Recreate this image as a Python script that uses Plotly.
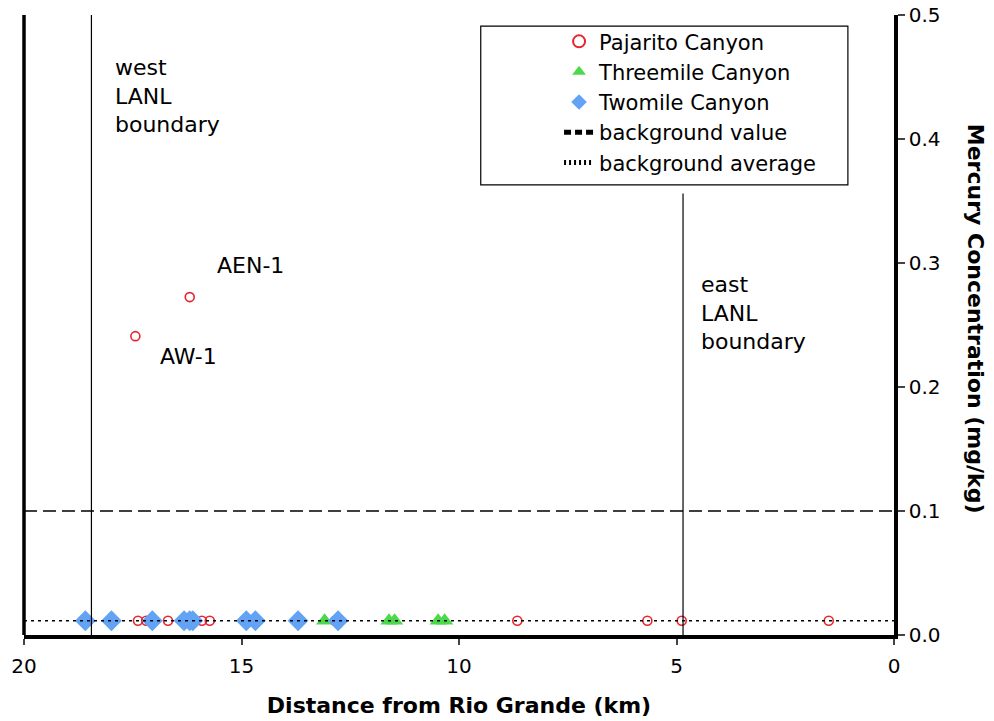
import plotly.graph_objects as go

# ---- data (distance from Rio Grande in km, mercury in mg/kg) ----
paj_x = [18.53, 17.38, 17.19, 16.69, 15.91, 15.73, 12.85, 8.66, 5.67, 4.88, 1.50, 17.44, 16.19]
paj_y = [0.0115, 0.0115, 0.0115, 0.0115, 0.0115, 0.0115, 0.0115, 0.0115, 0.0115, 0.0115, 0.0115, 0.241, 0.2725]
three_x = [13.09, 11.61, 11.48, 10.48, 10.33]
three_y = [0.0115, 0.0115, 0.0115, 0.0115, 0.0115]
two_x = [18.59, 17.99, 17.05, 16.32, 16.19, 16.12, 14.89, 14.68, 13.70, 12.78]
two_y = [0.0115, 0.0115, 0.0115, 0.0115, 0.0115, 0.0115, 0.0115, 0.0115, 0.0115, 0.0115]
bg_value = 0.1
bg_average = 0.0115
west_boundary = 18.45
east_boundary = 4.85
x_ticks = [20, 15, 10, 5, 0]
y_ticks = [0.0, 0.1, 0.2, 0.3, 0.4, 0.5]

FONT = "DejaVu Sans"
fig = go.Figure()

fig.add_trace(go.Scatter(x=paj_x, y=paj_y, mode="markers", name="Pajarito Canyon",
                         marker=dict(symbol="circle-open", size=9, color="#e8242c", line=dict(width=1.6))))
fig.add_trace(go.Scatter(x=three_x, y=three_y, mode="markers", name="Threemile Canyon",
                         marker=dict(symbol="triangle-up", size=15, color="#4cd94c")))
fig.add_trace(go.Scatter(x=two_x, y=two_y, mode="markers", name="Twomile Canyon",
                         marker=dict(symbol="diamond", size=16, color="#62a3f5")))
# reference lines (drawn), with legend-only twins using a shorter dash so the pattern shows in the legend
fig.add_trace(go.Scatter(x=[20, 0], y=[bg_value, bg_value], mode="lines", showlegend=False,
                         line=dict(color="black", width=1.5, dash="13px,6px")))
fig.add_trace(go.Scatter(x=[20, 0], y=[bg_average, bg_average], mode="lines", showlegend=False,
                         line=dict(color="black", width=1.5, dash="3px,4px")))
fig.add_trace(go.Scatter(x=[None], y=[None], mode="lines", name="background value",
                         line=dict(color="black", width=1.3, dash="7px,4px")))
fig.add_trace(go.Scatter(x=[None], y=[None], mode="lines", name="background average",
                         line=dict(color="black", width=1.3, dash="2px,3px")))

# boundary lines
fig.add_shape(type="line", xref="x", yref="y", x0=west_boundary, x1=west_boundary, y0=0, y1=0.5,
              line=dict(color="black", width=1.2))
fig.add_shape(type="line", xref="x", yref="y", x0=east_boundary, x1=east_boundary, y0=0, y1=0.356,
              line=dict(color="black", width=1.2))
# legend border
fig.add_shape(type="rect", xref="paper", yref="paper", x0=0.525, x1=0.947, y0=0.726, y1=0.982,
              line=dict(color="black", width=1.2), fillcolor="white", layer="below")

ann_font = dict(family=FONT, size=22, color="black")
fig.add_annotation(x=17.95, y=0.435, xref="x", yref="y", text="west<br>LANL<br>boundary", showarrow=False,
                   xanchor="left", yanchor="middle", align="left", font=ann_font)
fig.add_annotation(x=4.49, y=0.26, xref="x", yref="y", text="east<br>LANL<br>boundary", showarrow=False,
                   xanchor="left", yanchor="middle", align="left", font=ann_font)
fig.add_annotation(x=15.6, y=0.298, xref="x", yref="y", text="AEN-1", showarrow=False,
                   xanchor="left", yanchor="middle", font=ann_font)
fig.add_annotation(x=16.92, y=0.225, xref="x", yref="y", text="AW-1", showarrow=False,
                   xanchor="left", yanchor="middle", font=ann_font)
# right-side y title reading top to bottom
fig.add_annotation(x=(975 - 24) / 870, y=0.51, xref="paper", yref="paper",
                   text="<b>Mercury Concentration (mg/kg)</b>", xanchor="center", yanchor="middle",
                   showarrow=False, textangle=90, font=dict(family=FONT, size=22, color="black"))

fig.update_layout(
    width=994, height=721,
    margin=dict(l=24, r=100, t=15, b=86, autoexpand=False),
    paper_bgcolor="white", plot_bgcolor="white",
    font=dict(family=FONT, size=19, color="black"),
    showlegend=True,
    legend=dict(x=0.615, y=0.99, xanchor="left", yanchor="top", bgcolor="rgba(0,0,0,0)",
                font=dict(family=FONT, size=21), tracegroupgap=0, itemsizing="constant"),
    xaxis=dict(range=[20, 0], tickvals=x_ticks, ticks="outside", ticklen=6, tickwidth=1.5,
               showline=True, linecolor="black", linewidth=3.5, mirror=False, showgrid=False, zeroline=False,
               automargin=False, ticklabelstandoff=4,
               title=dict(text="<b>Distance from Rio Grande (km)</b>", font=dict(family=FONT, size=22), standoff=22),
               tickfont=dict(family=FONT, size=20)),
    yaxis=dict(range=[0, 0.5], tickvals=y_ticks, tickformat=".1f", side="right", ticks="outside", ticklen=7,
               tickwidth=1.5, showline=True, linecolor="black", linewidth=3.5, showgrid=False, zeroline=False,
               automargin=False, tickfont=dict(family=FONT, size=20)),
)
# left border of plot area
fig.add_shape(type="line", xref="paper", yref="paper", x0=0, x1=0, y0=0, y1=1,
              line=dict(color="black", width=3.5))

fig.write_html("out.html", config={"displayModeBar": False},
               post_script="document.body.style.margin='0';")
